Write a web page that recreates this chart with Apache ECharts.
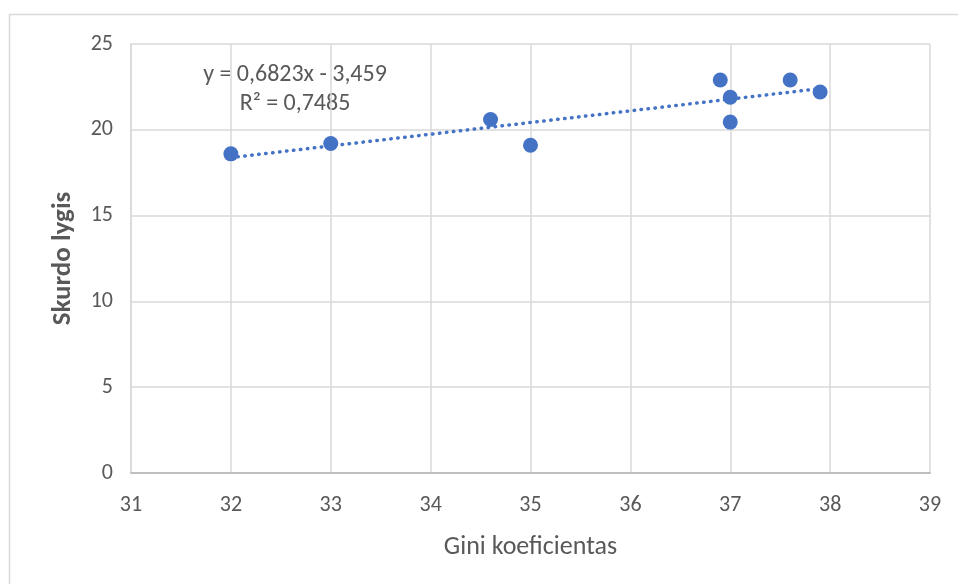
<!DOCTYPE html>
<html>
<head>
<meta charset="utf-8">
<script src="https://cdn.jsdelivr.net/npm/echarts@6/dist/echarts.min.js"></script>
<style>
  html, body { margin: 0; padding: 0; background: #fff; }
  #chart { width: 958px; height: 584px; }
</style>
</head>
<body>
<div id="chart"></div>
<script>
// Gini koeficientas vs Skurdo lygis
var giniValues = [32, 33, 34.6, 35, 36.9, 37, 37, 37.6, 37.9]
var skurdoValues = [18.6, 19.2, 20.6, 19.1, 22.9, 21.9, 20.45, 22.9, 22.2]
// trend line end points (from y = 0,6823x - 3,459)
var trendX = [32, 37.9]
var trendY = [18.38, 22.40]
var trendLabel = ['y = 0,6823x - 3,459', 'R² = 0,7485']

var textColor = '#595959'
var gridColor = '#d9d9d9'
var fontFamily = 'Calibri, Carlito, "Liberation Sans Narrow", "Liberation Sans", sans-serif'

var chart = echarts.init(document.getElementById('chart'))
chart.setOption({
  backgroundColor: '#fff',
  animation: false,
  textStyle: { fontFamily: fontFamily },
  graphic: [{
    type: 'rect',
    shape: { x: 9.5, y: 14.5, width: 1000, height: 600 },
    style: { fill: 'none', stroke: '#d9d9d9', lineWidth: 1.5 },
    silent: true
  }, {
    type: 'text',
    x: 295,
    y: 75,
    style: { text: trendLabel[0], fill: textColor, font: '24px ' + fontFamily, align: 'center', verticalAlign: 'middle' }
  }, {
    type: 'text',
    x: 295,
    y: 104,
    style: { text: trendLabel[1], fill: textColor, font: '24px ' + fontFamily, align: 'center', verticalAlign: 'middle' }
  }],
  grid: {
    left: 131,
    right: 28,
    top: 44,
    bottom: 111,
    containLabel: false
  },
  xAxis: {
    type: 'value',
    min: 31,
    max: 39,
    interval: 1,
    name: 'Gini koeficientas',
    nameLocation: 'middle',
    nameGap: 61,
    nameTextStyle: { color: textColor, fontSize: 26, fontFamily: fontFamily },
    axisLine: { show: true, onZero: false, lineStyle: { color: '#bfbfbf', width: 2 } },
    axisTick: { show: false },
    axisLabel: { color: textColor, fontSize: 22, margin: 21, fontFamily: fontFamily },
    splitLine: { show: true, lineStyle: { color: gridColor, width: 1.5 } }
  },
  yAxis: {
    type: 'value',
    min: 0,
    max: 25,
    interval: 5,
    name: 'Skurdo lygis',
    nameLocation: 'middle',
    nameGap: 54,
    nameTextStyle: { color: textColor, fontSize: 27, fontWeight: 'bold', fontFamily: fontFamily },
    axisLine: { show: true, lineStyle: { color: gridColor, width: 1.5 } },
    axisTick: { show: false },
    axisLabel: { color: textColor, fontSize: 22, margin: 18, fontFamily: fontFamily },
    splitLine: { show: true, lineStyle: { color: gridColor, width: 1.5 } }
  },
  series: [{
    name: 'Trend',
    type: 'line',
    data: trendX.map(function (x, i) { return [x, trendY[i]] }),
    symbol: 'none',
    lineStyle: { color: '#4472C4', width: 3.5, type: [0.5, 6.5], cap: 'round' },
    silent: true,
    z: 2
  }, {
    name: 'Skurdo lygis',
    type: 'scatter',
    data: giniValues.map(function (x, i) { return [x, skurdoValues[i]] }),
    symbol: 'circle',
    symbolSize: 15,
    itemStyle: { color: '#4472C4', opacity: 1 },
    z: 3
  }]
})
</script>
</body>
</html>
